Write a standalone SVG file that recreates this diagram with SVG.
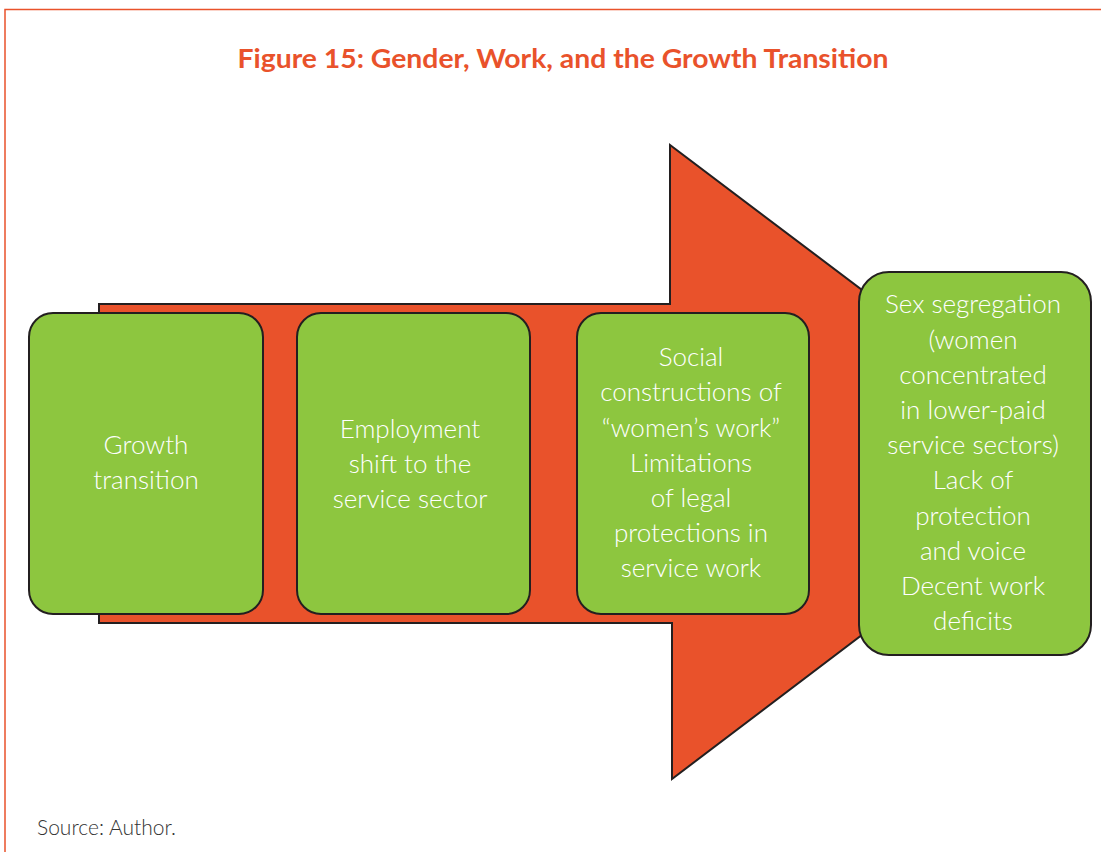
<svg xmlns="http://www.w3.org/2000/svg" width="1101" height="852" viewBox="0 0 1101 852">
<style>
.box{fill:#8DC63F;stroke:#231F20;stroke-width:2}
.t{font-family:Lato,"Open Sans",sans-serif;font-size:26px;font-weight:300;fill:#ffffff;text-anchor:middle}
</style>
<rect width="1101" height="852" fill="#ffffff"/>
<path d="M5,852 L5,9.5 L1101,9.5" fill="none" stroke="#E9522B" stroke-width="1.5"/>
<text x="563" y="68" font-family="Lato,'Open Sans',sans-serif" font-size="27" font-weight="bold" fill="#E9522B" text-anchor="middle" textLength="651" lengthAdjust="spacingAndGlyphs">Figure 15: Gender, Work, and the Growth Transition</text>
<g id="connectors">
<path d="M99,304 L670,304 L670,145 L1090,462 L672,779 L672,623 L99,623 Z" fill="#E9522B" stroke="#231F20" stroke-width="2" stroke-linejoin="miter"/>
</g>
<g id="n1">
<rect class="box" x="29" y="313" width="234" height="301" rx="24"/>
<text class="t" x="146" y="454">Growth</text>
<text class="t" x="146" y="489">transition</text>
</g>
<g id="n2">
<rect class="box" x="297" y="313" width="233" height="301" rx="24"/>
<text class="t" x="410" y="438">Employment</text>
<text class="t" x="410" y="473">shift to the</text>
<text class="t" x="410" y="508">service sector</text>
</g>
<g id="n3">
<rect class="box" x="577" y="313" width="232" height="301" rx="24"/>
<text class="t" x="691" y="366">Social</text>
<text class="t" x="691" y="401">constructions of</text>
<text class="t" x="691" y="437">“women’s work”</text>
<text class="t" x="691" y="472">Limitations</text>
<text class="t" x="691" y="507">of legal</text>
<text class="t" x="691" y="542">protections in</text>
<text class="t" x="691" y="577">service work</text>
</g>
<g id="n4">
<rect class="box" x="859" y="272" width="232" height="383" rx="30"/>
<text class="t" x="973" y="313">Sex segregation</text>
<text class="t" x="973" y="349">(women</text>
<text class="t" x="973" y="384">concentrated</text>
<text class="t" x="973" y="419">in lower-paid</text>
<text class="t" x="973" y="454">service sectors)</text>
<text class="t" x="973" y="489">Lack of</text>
<text class="t" x="973" y="525">protection</text>
<text class="t" x="973" y="560">and voice</text>
<text class="t" x="973" y="595">Decent work</text>
<text class="t" x="973" y="630">deficits</text>
</g>
<text x="37" y="835" font-family="Lato,'Open Sans',sans-serif" font-size="21" font-weight="300" fill="#333333">Source: Author.</text>
</svg>
